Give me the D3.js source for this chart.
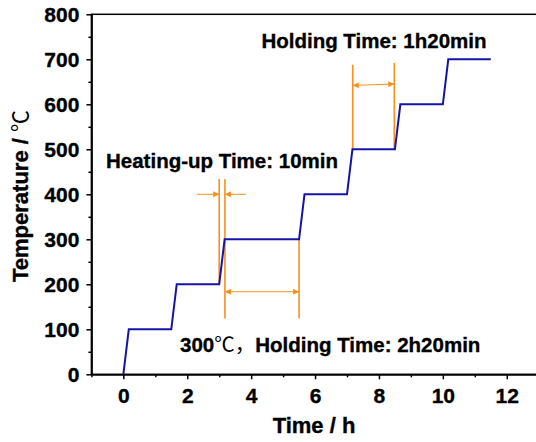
<!DOCTYPE html>
<html lang="en">
<head>
    <meta charset="UTF-8">
    <title>Heating profile</title>
    <script src="https://d3js.org/d3.v7.min.js"></script>
    <style>
        body {
            margin: 0;
            background: #fff;
        }
        svg text {
            font-family: "Liberation Sans", Arial, "Noto Sans CJK SC", sans-serif;
            font-weight: bold;
            fill: #000;
            stroke: #000;
            stroke-width: 0.35px;
        }
        .axis path, .axis line {
            stroke: #000;
            stroke-width: 1.5px;
        }
    </style>
</head>
<body>
    <svg id="chart" width="536" height="442"></svg>

    <script>
        // temperature programme (h, °C)
        const timeH = [0, 0.17, 1.5, 1.67, 3, 3.17, 5.5, 5.67, 7, 7.17, 8.5, 8.67, 10, 10.17, 11.5];
        const tempC = [0, 100, 100, 200, 200, 300, 300, 400, 400, 500, 500, 600, 600, 700, 700];

        const xTicks = [0, 2, 4, 6, 8, 10, 12];
        const xMinor = [-1, 1, 3, 5, 7, 9, 11, 13];
        const yTicks = [0, 100, 200, 300, 400, 500, 600, 700, 800];
        const yMinor = [50, 150, 250, 350, 450, 550, 650, 750];

        // orange marker lines: x, from, to
        const markX = [3, 3.18, 5.5, 7.18, 8.48];
        const markFrom = [200, 124, 124, 500, 500];
        const markTo = [434, 434, 300, 688, 692];

        const labels = ['Holding Time: 1h20min', 'Heating-up Time: 10min', '300', '℃，', 'Holding Time: 2h20min'];

        const svg = d3.select('#chart');
        const x = d3.scaleLinear().domain([-1, 13]).range([91.4, 538.7]);
        const y = d3.scaleLinear().domain([0, 800]).range([374.3, 14.3]);
        const orange = '#f7901e';

        // frame
        svg.append('rect')
            .attr('x', x(-1)).attr('y', y(800))
            .attr('width', x(13) - x(-1)).attr('height', y(0) - y(800))
            .attr('fill', 'none').attr('stroke', '#000').attr('stroke-width', 1.5);

        // axes
        svg.append('g').attr('class', 'axis')
            .attr('transform', `translate(0,${y(0)})`)
            .call(d3.axisBottom(x).tickValues(xTicks).tickSize(5).tickPadding(9).tickSizeOuter(0));
        svg.append('g').attr('class', 'axis')
            .attr('transform', `translate(0,${y(0)})`)
            .call(d3.axisBottom(x).tickValues(xMinor).tickSize(3).tickFormat('').tickSizeOuter(0));
        svg.append('g').attr('class', 'axis')
            .attr('transform', `translate(${x(-1)},0)`)
            .call(d3.axisLeft(y).tickValues(yTicks).tickSize(5).tickPadding(7).tickSizeOuter(0));
        svg.append('g').attr('class', 'axis')
            .attr('transform', `translate(${x(-1)},0)`)
            .call(d3.axisLeft(y).tickValues(yMinor).tickSize(3).tickFormat('').tickSizeOuter(0));
        svg.selectAll('.axis text').style('font-size', '21px');

        svg.append('text')
            .attr('x', 314).attr('y', 433)
            .attr('text-anchor', 'middle')
            .style('font-size', '22px')
            .text('Time / h');
        svg.append('text')
            .attr('transform', 'translate(27.5,196) rotate(-90)')
            .attr('text-anchor', 'middle')
            .style('font-size', '22px')
            .text('Temperature / ')
            .append('tspan').style('font-weight', 'normal').style('stroke-width', 0).text('℃');

        // orange markers
        svg.append('g').selectAll('line')
            .data(markX)
            .join('line')
            .attr('x1', d => x(d)).attr('x2', d => x(d))
            .attr('y1', (d, i) => y(markFrom[i])).attr('y2', (d, i) => y(markTo[i]))
            .attr('stroke', orange).attr('stroke-width', 1.6);

        const defs = svg.append('defs');
        defs.append('marker')
            .attr('id', 'head')
            .attr('viewBox', '0 0 10 10')
            .attr('refX', 10).attr('refY', 5)
            .attr('markerWidth', 9).attr('markerHeight', 6)
            .attr('markerUnits', 'userSpaceOnUse')
            .attr('orient', 'auto-start-reverse')
            .append('path')
            .attr('d', 'M0,0L10,5L0,10z')
            .attr('fill', orange);

        function arrow(x0, y0, x1, y1, both) {
            svg.append('line')
                .attr('x1', x(x0)).attr('y1', y(y0))
                .attr('x2', x(x1)).attr('y2', y(y1))
                .attr('stroke', orange).attr('stroke-width', 1)
                .attr('marker-end', 'url(#head)')
                .attr('marker-start', both ? 'url(#head)' : null);
        }
        arrow(2.31, 400, 3, 400, false);
        arrow(3.84, 400, 3.18, 400, false);
        arrow(3.18, 183.5, 5.5, 183.5, true);
        arrow(7.18, 642, 8.48, 645, true);

        // temperature curve
        const line = d3.line()
            .x((d, i) => x(timeH[i]))
            .y(d => y(d));
        svg.append('path')
            .datum(tempC)
            .attr('d', line)
            .attr('fill', 'none')
            .attr('stroke', '#1414a8')
            .attr('stroke-width', 2);

        // annotations
        svg.append('text')
            .attr('x', 261.4).attr('y', 48.3)
            .style('font-size', '20.5px')
            .text(labels[0]);
        svg.append('text')
            .attr('x', 106).attr('y', 167.7)
            .style('font-size', '20.5px')
            .text(labels[1]);
        const t3 = svg.append('text')
            .attr('x', 180).attr('y', 352.3)
            .style('font-size', '20.5px');
        t3.append('tspan').text(labels[2]);
        t3.append('tspan').style('font-weight', 'normal').style('stroke-width', 0).text(labels[3]);
        t3.append('tspan').text(labels[4]);
    </script>
</body>
</html>
